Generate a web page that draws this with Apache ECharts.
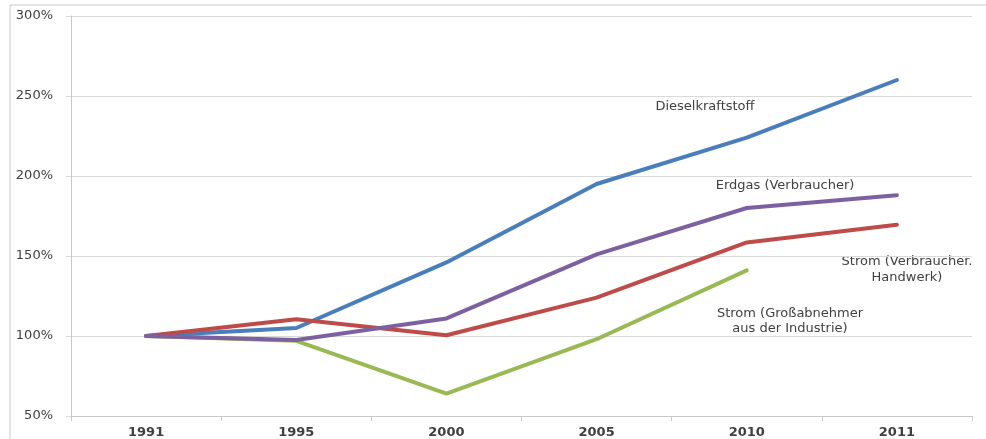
<!DOCTYPE html>
<html><head><meta charset="utf-8">
<script src="https://cdn.jsdelivr.net/npm/echarts@6/dist/echarts.min.js"></script>
<style>html,body{margin:0;padding:0;background:#fff}#c{width:986px;height:439px}</style>
</head><body><div id="c"></div>
<script>
const years = ['1991','1995','2000','2005','2010','2011'];
const diesel = [100, 105, 146, 195, 224, 260];
const erdgas = [100, 97.5, 111, 151, 180, 188];
const stromVerbraucher = [100, 110.5, 100.5, 124, 158.5, 169.5];
const stromIndustrie = [100, 97, 64, 98, 141, null];
const yTicks = [50, 300, 50]; // min, max, interval

const chart = echarts.init(document.getElementById('c'));
const font = '"DejaVu Sans", "Open Sans", sans-serif';
function line(name, data, color, z) {
  return { name, type: 'line', data, symbol: 'none', z,
    lineStyle: { color, width: 4, cap: 'round', join: 'round' }, itemStyle: { color } };
}
function label(text, x, y) {
  return { type: 'text', x, y, style: { text, fill: '#404040', font: '13px ' + font, align: 'center', verticalAlign: 'middle' } };
}
chart.setOption({
  animation: false,
  grid: { left: 71, right: 14, top: 16, bottom: 22 },
  xAxis: { type: 'category', data: years, boundaryGap: true,
    axisLine: { lineStyle: { color: '#c8c8c8', width: 1 } },
    axisTick: { show: true, length: 5, lineStyle: { color: '#c8c8c8' } },
    axisLabel: { color: '#404040', fontFamily: font, fontSize: 13, margin: 10, fontWeight: 'bold' } },
  yAxis: { type: 'value', min: yTicks[0], max: yTicks[1], interval: yTicks[2],
    axisLine: { show: true, lineStyle: { color: '#c8c8c8' } },
    axisTick: { show: true, length: 5, lineStyle: { color: '#d9d9d9' } },
    splitLine: { lineStyle: { color: '#d9d9d9', width: 1 } },
    axisLabel: { formatter: '{value}%', color: '#404040', fontFamily: font, fontSize: 13, margin: 18 } },
  series: [
    line('Dieselkraftstoff', diesel, '#4a7ebb', 2),
    line('Strom (Großabnehmer aus der Industrie)', stromIndustrie, '#98b954', 2),
    line('Strom (Verbraucher. Handwerk)', stromVerbraucher, '#be4b48', 3),
    line('Erdgas (Verbraucher)', erdgas, '#7d60a0', 4)
  ],
  graphic: [
    { type: 'line', shape: { x1: 10, y1: 5, x2: 986, y2: 5 }, style: { stroke: '#c8c8c8', lineWidth: 1 } },
    { type: 'line', shape: { x1: 10, y1: 5, x2: 10, y2: 439 }, style: { stroke: '#c8c8c8', lineWidth: 1 } },
    label('Dieselkraftstoff', 705, 107),
    label('Erdgas (Verbraucher)', 785, 186),
    label('Strom (Verbraucher.', 907, 262),
    label('Handwerk)', 907, 278),
    label('Strom (Großabnehmer', 790, 314),
    label('aus der Industrie)', 790, 329)
  ]
});
</script></body></html>
